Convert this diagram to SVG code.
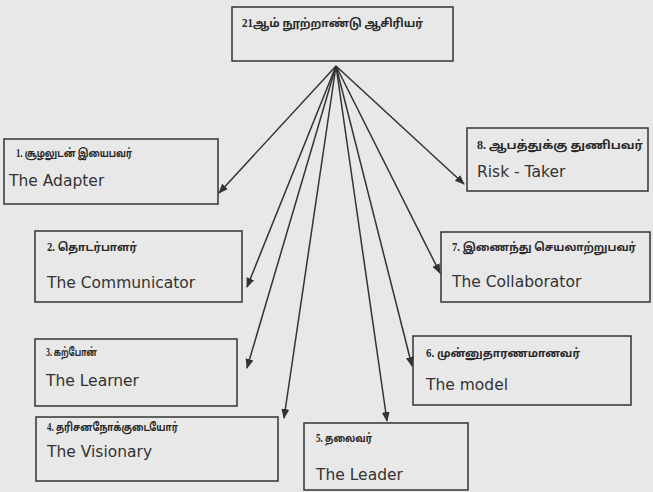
<svg xmlns="http://www.w3.org/2000/svg" width="653" height="492" viewBox="0 0 653 492">
<style>
.box{fill:none;stroke:#333;stroke-width:1.5}
.ta{font-family:"Liberation Serif","Noto Sans Tamil","Lohit Tamil","Noto Sans",serif;font-weight:bold;font-size:11.5px;fill:#2a2a2a}
.en{font-family:"DejaVu Sans","Liberation Sans",sans-serif;font-size:15.5px;fill:#333}
.con{stroke:#333;stroke-width:1.5;fill:none;marker-end:url(#ah)}
</style>
<defs>
<marker id="ah" viewBox="0 0 10 10" refX="9" refY="5" markerWidth="10" markerHeight="10" markerUnits="userSpaceOnUse" orient="auto">
<path d="M0,1 L10,5 L0,9 Z" fill="#333"/>
</marker>
</defs>
<rect width="653" height="492" fill="#e8e8e8"/>
<g id="connectors">
<line class="con" x1="336" y1="66" x2="219" y2="193"/>
<line class="con" x1="336" y1="66" x2="247" y2="287"/>
<line class="con" x1="336" y1="66" x2="247" y2="368"/>
<line class="con" x1="336" y1="66" x2="284" y2="418"/>
<line class="con" x1="336" y1="66" x2="387" y2="421"/>
<line class="con" x1="336" y1="66" x2="412" y2="366"/>
<line class="con" x1="336" y1="66" x2="440" y2="273"/>
<line class="con" x1="336" y1="66" x2="464" y2="184"/>
</g>
<g id="root">
<rect class="box" x="232" y="7" width="221" height="54"/>
<text class="ta" x="242" y="27" textLength="181" lengthAdjust="spacingAndGlyphs">21ஆம் நூற்றாண்டு ஆசிரியர்</text>
</g>
<g id="n1">
<rect class="box" x="4" y="139" width="214" height="65"/>
<text class="ta" x="16" y="157" textLength="116" lengthAdjust="spacingAndGlyphs">1. சூழலுடன் இயைபவர்</text>
<text class="en" x="9" y="186">The Adapter</text>
</g>
<g id="n2">
<rect class="box" x="35" y="231" width="207" height="71"/>
<text class="ta" x="47" y="251" textLength="90" lengthAdjust="spacingAndGlyphs">2. தொடர்பாளர்</text>
<text class="en" x="47" y="288">The Communicator</text>
</g>
<g id="n3">
<rect class="box" x="35" y="339" width="202" height="67"/>
<text class="ta" x="46" y="356" textLength="51" lengthAdjust="spacingAndGlyphs">3. கற்போன்</text>
<text class="en" x="46" y="386">The Learner</text>
</g>
<g id="n4">
<rect class="box" x="36" y="417" width="242" height="64"/>
<text class="ta" x="47" y="431" textLength="131" lengthAdjust="spacingAndGlyphs">4. தரிசனநோக்குடையோர்</text>
<text class="en" x="47" y="457">The Visionary</text>
</g>
<g id="n5">
<rect class="box" x="304" y="423" width="164" height="67"/>
<text class="ta" x="316" y="442" textLength="56" lengthAdjust="spacingAndGlyphs">5. தலைவர்</text>
<text class="en" x="316" y="480">The Leader</text>
</g>
<g id="n6">
<rect class="box" x="413" y="336" width="218" height="69"/>
<text class="ta" x="426" y="357" textLength="154" lengthAdjust="spacingAndGlyphs">6. முன்னுதாரணமானவர்</text>
<text class="en" x="426" y="390">The model</text>
</g>
<g id="n7">
<rect class="box" x="441" y="232" width="209" height="70"/>
<text class="ta" x="452" y="251" textLength="184" lengthAdjust="spacingAndGlyphs">7. இணைந்து செயலாற்றுபவர்</text>
<text class="en" x="452" y="287">The Collaborator</text>
</g>
<g id="n8">
<rect class="box" x="467" y="128" width="181" height="63"/>
<text class="ta" x="477" y="149" textLength="166" lengthAdjust="spacingAndGlyphs">8. ஆபத்துக்கு துணிபவர்</text>
<text class="en" x="477" y="177">Risk - Taker</text>
</g>
</svg>
